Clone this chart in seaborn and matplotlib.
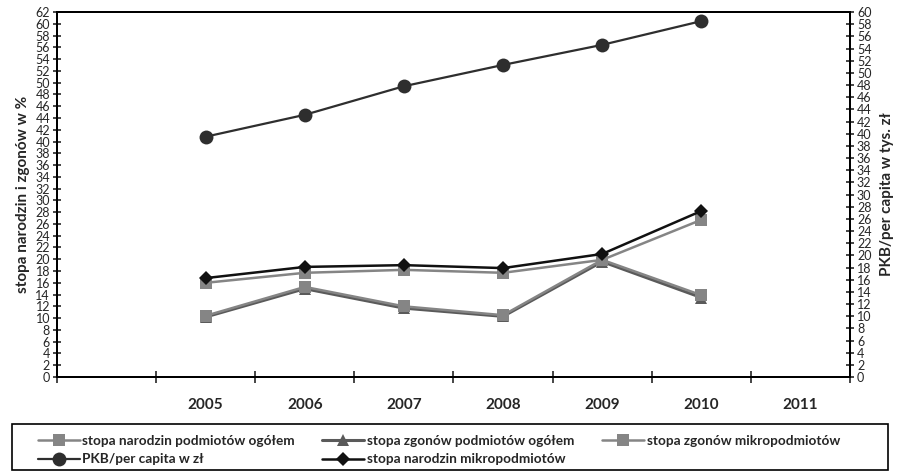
import matplotlib
matplotlib.use("Agg")
import matplotlib.pyplot as plt
import seaborn as sns
import numpy as np
import pandas as pd
from matplotlib.patches import Rectangle

# ---- data ----
categories = ["", "2005", "2006", "2007", "2008", "2009", "2010", "2011"]
years = ["2005", "2006", "2007", "2008", "2009", "2010"]
narodzin_ogolem = [16.0, 17.7, 18.2, 17.7, 19.9, 26.7]
zgonow_ogolem = [10.2, 15.0, 11.7, 10.3, 19.6, 13.5]
zgonow_mikro = [10.4, 15.3, 12.0, 10.5, 19.9, 13.9]
pkb = [39.5, 43.1, 47.8, 51.3, 54.6, 58.5]
narodzin_mikro = [16.8, 18.7, 19.0, 18.5, 20.9, 28.2]

labels = ["stopa narodzin podmiotów ogółem", "stopa zgonów podmiotów ogółem",
          "stopa zgonów mikropodmiotów", "PKB/per capita w zł",
          "stopa narodzin mikropodmiotów"]

sns.set_style("white")
plt.rcParams["font.family"] = ["Lato", "DejaVu Sans"]

xpos = [categories.index(y) for y in years]
df = pd.DataFrame({"x": xpos, "nar_og": narodzin_ogolem, "zg_og": zgonow_ogolem,
                   "zg_mi": zgonow_mikro, "pkb": pkb, "nar_mi": narodzin_mikro})

W, H = 901, 473
fig = plt.figure(figsize=(W / 100, H / 100), dpi=100)
L, R, T, B = 57, 850, 12, 377
ax = fig.add_axes([L / W, 1 - B / H, (R - L) / W, (B - T) / H])
ax2 = ax.twinx()

gray = "#858585"
sns.lineplot(data=df, x="x", y="zg_og", ax=ax, color="#5a5a5a", marker="^",
             markersize=8, markeredgewidth=0, linewidth=2.2, label=labels[1], zorder=2)
sns.lineplot(data=df, x="x", y="zg_mi", ax=ax, color=gray, marker="s",
             markersize=8, markeredgewidth=0, linewidth=1.8, label=labels[2], zorder=3)
sns.lineplot(data=df, x="x", y="nar_og", ax=ax, color=gray, marker="s",
             markersize=8, markeredgewidth=0, linewidth=1.8, label=labels[0], zorder=3)
sns.lineplot(data=df, x="x", y="nar_mi", ax=ax, color="#111111", marker="D",
             markersize=7.5, markeredgewidth=0, linewidth=1.8, label=labels[4], zorder=4)
sns.lineplot(data=df, x="x", y="pkb", ax=ax2, color="#2e2e2e", marker="o",
             markersize=10, markeredgewidth=0, linewidth=1.6, label=labels[3], zorder=4)

for a in (ax, ax2):
    if a.get_legend() is not None:
        a.get_legend().remove()
    a.set_xlabel("")
    a.set_ylabel("")

ax.set_xlim(-0.5, len(categories) - 0.5)
ax.set_ylim(0, 62)
ax2.set_ylim(0, 60)
ax.set_yticks(np.arange(0, 63, 2))
ax2.set_yticks(np.arange(0, 61, 2))
ax.set_xticks(np.arange(-0.5, len(categories), 1))
ax.set_xticklabels([])
ax.set_xticks(np.arange(len(categories)), minor=True)
ax.set_xticklabels(categories, minor=True, fontsize=11, fontweight="bold")
ax.tick_params(axis="x", which="major", direction="inout", length=9, width=1.2, bottom=True)
ax.tick_params(axis="x", which="minor", length=0, pad=15, bottom=True)
ax.tick_params(axis="y", direction="inout", length=6, width=1.2, labelsize=9, pad=2, left=True)
ax2.tick_params(axis="y", direction="inout", length=6, width=1.2, labelsize=9, pad=2, right=True)

for a in (ax, ax2):
    for s in a.spines.values():
        s.set_visible(True)
        s.set_color("black")
        s.set_linewidth(1.4)

ax.set_ylabel("stopa narodzin i zgonów w %", fontsize=11, fontweight="bold", labelpad=4)
ax2.set_ylabel("PKB/per capita w tys. zł", fontsize=11, fontweight="bold", labelpad=6)

ax.grid(False)
ax2.grid(False)

# legend
h1, l1 = ax.get_legend_handles_labels()
h2, l2 = ax2.get_legend_handles_labels()
hmap = dict(zip(l1 + l2, h1 + h2))
order = [labels[0], labels[3], labels[1], labels[4], labels[2]]
fig.patches.append(Rectangle((12 / W, 1 - 470 / H), (888 - 12) / W, (470 - 424) / H,
                             transform=fig.transFigure, fill=False, edgecolor="black",
                             linewidth=1.2))
fig.legend([hmap[k] for k in order], order, loc="upper left",
           bbox_to_anchor=(28 / W, 1 - 425 / H), ncol=3, frameon=False,
           prop={"family": ["Lato", "DejaVu Sans"], "weight": "bold", "size": 9.8},
           handlelength=3.1, handletextpad=0.2, columnspacing=2.0,
           labelspacing=0.5, borderpad=0.2)

fig.savefig("out.png", dpi=100)
